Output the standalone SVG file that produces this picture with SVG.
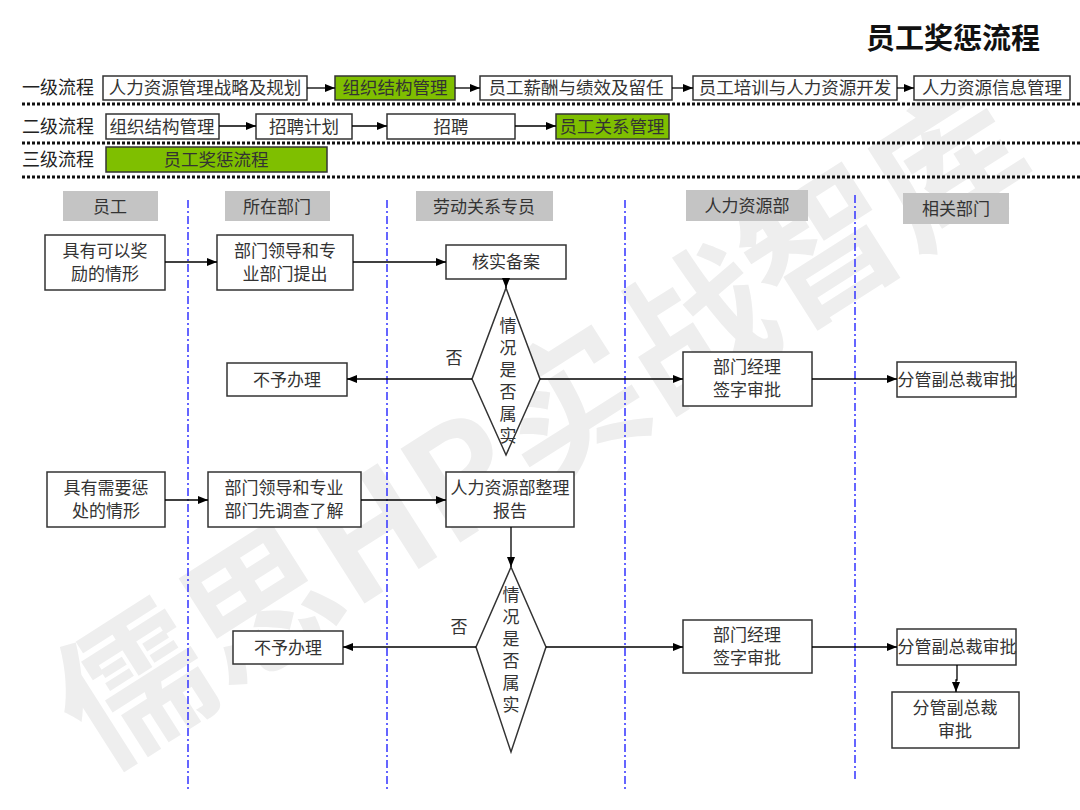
<svg xmlns="http://www.w3.org/2000/svg" width="1080" height="810" viewBox="0 0 1080 810">
<defs>
<marker id="arr" viewBox="0 0 10 10" refX="10" refY="5" markerWidth="10" markerHeight="10" markerUnits="userSpaceOnUse" orient="auto">
<path d="M0,1 L10,5 L0,9 z" fill="#000"/>
</marker>
<style>
text{font-family:"Noto Sans CJK SC","Liberation Sans",sans-serif;fill:#333;}
.t{font-size:17px;text-anchor:middle;}
.v{font-size:17px;text-anchor:middle;writing-mode:vertical-rl;text-orientation:upright;letter-spacing:5px;}
.lbl{font-size:18px;fill:#222;}
.box{fill:#fff;stroke:#333;stroke-width:1.5;}
.hbox{fill:#fff;stroke:#333;stroke-width:1.5;}
.green{fill:#7fbf00;stroke:#333;stroke-width:1.5;}
.gray{fill:#c4c4c4;}
.dot{stroke:#111;stroke-width:3;stroke-dasharray:3 2;fill:none;}
.lane{stroke:#3333ff;stroke-width:1.5;stroke-dasharray:8 3 2 3;fill:none;}
.c{stroke:#000;stroke-width:1.3;fill:none;marker-end:url(#arr);}
.wm{font-size:150px;font-weight:700;fill:#eeeeee;}
</style>
</defs>
<rect width="1080" height="810" fill="#fff"/>
<text class="wm" transform="translate(100,772) rotate(-32.5)">儒思HR实战智库</text>

<text x="1040" y="49" style="font-size:29px;font-weight:700;fill:#111;text-anchor:end">员工奖惩流程</text>

<g id="levels">
<text class="lbl" x="22" y="94">一级流程</text>
<text class="lbl" x="22" y="133">二级流程</text>
<text class="lbl" x="22" y="166">三级流程</text>
<line class="dot" x1="22" y1="104" x2="1080" y2="104"/>
<line class="dot" x1="22" y1="143" x2="1080" y2="143"/>
<line class="dot" x1="22" y1="177" x2="1080" y2="177"/>
</g>

<g id="l1-1"><rect class="hbox" x="103" y="76" width="204" height="24"/><text class="t" x="205" y="94" style="font-size:17.5px">人力资源管理战略及规划</text></g>
<g id="l1-2"><rect class="green" x="335" y="76" width="120" height="24"/><text class="t" x="395" y="94" style="font-size:17.5px">组织结构管理</text></g>
<g id="l1-3"><rect class="hbox" x="480" y="76" width="192" height="24"/><text class="t" x="576" y="94" style="font-size:17.5px">员工薪酬与绩效及留任</text></g>
<g id="l1-4"><rect class="hbox" x="693" y="76" width="204" height="24"/><text class="t" x="795" y="94" style="font-size:17.5px">员工培训与人力资源开发</text></g>
<g id="l1-5"><rect class="hbox" x="914" y="76" width="156" height="24"/><text class="t" x="992" y="94" style="font-size:17.5px">人力资源信息管理</text></g>

<g id="l2-1"><rect class="hbox" x="106" y="114" width="113" height="25"/><text class="t" x="162" y="133" style="font-size:17.5px">组织结构管理</text></g>
<g id="l2-2"><rect class="hbox" x="256" y="114" width="96" height="25"/><text class="t" x="304" y="133" style="font-size:17.5px">招聘计划</text></g>
<g id="l2-3"><rect class="hbox" x="387" y="114" width="128" height="25"/><text class="t" x="451" y="133" style="font-size:17.5px">招聘</text></g>
<g id="l2-4"><rect class="green" x="556" y="114" width="113" height="25"/><text class="t" x="612" y="133" style="font-size:17.5px">员工关系管理</text></g>

<g id="l3-1"><rect class="green" x="106" y="147" width="221" height="25"/><text class="t" x="216" y="166" style="font-size:17.5px">员工奖惩流程</text></g>

<g id="lanes">
<rect class="gray" x="63" y="191" width="95" height="30"/><text class="t" x="110" y="213">员工</text>
<rect class="gray" x="225" y="191" width="105" height="30"/><text class="t" x="277" y="213">所在部门</text>
<rect class="gray" x="416" y="191" width="137" height="30"/><text class="t" x="484" y="213">劳动关系专员</text>
<rect class="gray" x="686" y="190" width="122" height="31"/><text class="t" x="747" y="212">人力资源部</text>
<rect class="gray" x="903" y="193" width="106" height="31"/><text class="t" x="956" y="215">相关部门</text>
<line class="lane" x1="188" y1="200" x2="188" y2="792"/>
<line class="lane" x1="387" y1="200" x2="387" y2="792"/>
<line class="lane" x1="625" y1="200" x2="625" y2="792"/>
<line class="lane" x1="855" y1="195" x2="855" y2="782"/>
</g>

<g id="n1"><rect class="box" x="45" y="235" width="120" height="55"/><text class="t" x="105" y="257">具有可以奖</text><text class="t" x="105" y="280">励的情形</text></g>
<g id="n2"><rect class="box" x="217" y="235" width="136" height="55"/><text class="t" x="285" y="257">部门领导和专</text><text class="t" x="285" y="280">业部门提出</text></g>
<g id="n3"><rect class="box" x="446" y="245" width="120" height="34"/><text class="t" x="506" y="268">核实备案</text></g>
<g id="d1"><path class="box" d="M506,288 L540,379 L506,455 L472,379 Z"/>
<text class="v" x="508" y="383">情况是否属实</text></g>
<g id="n4"><rect class="box" x="227" y="363" width="120" height="33"/><text class="t" x="287" y="386">不予办理</text></g>
<g id="n5"><rect class="box" x="683" y="352" width="129" height="54"/><text class="t" x="747" y="373">部门经理</text><text class="t" x="747" y="396">签字审批</text></g>
<g id="n6"><rect class="box" x="897" y="362" width="119" height="35"/><text class="t" x="957" y="386">分管副总裁审批</text></g>
<text class="t" x="454" y="364">否</text>

<g id="m1"><rect class="box" x="47" y="472" width="118" height="55"/><text class="t" x="106" y="494">具有需要惩</text><text class="t" x="106" y="517">处的情形</text></g>
<g id="m2"><rect class="box" x="208" y="472" width="153" height="55"/><text class="t" x="284" y="494">部门领导和专业</text><text class="t" x="284" y="517">部门先调查了解</text></g>
<g id="m3"><rect class="box" x="446" y="472" width="128" height="55"/><text class="t" x="510" y="494">人力资源部整理</text><text class="t" x="510" y="517">报告</text></g>
<g id="d2"><path class="box" d="M511,567 L546,647 L511,752 L476,647 Z"/>
<text class="v" x="511" y="652">情况是否属实</text></g>
<g id="m4"><rect class="box" x="233" y="631" width="110" height="33"/><text class="t" x="288" y="654">不予办理</text></g>
<g id="m5"><rect class="box" x="683" y="620" width="129" height="53"/><text class="t" x="747" y="641">部门经理</text><text class="t" x="747" y="664">签字审批</text></g>
<g id="m6"><rect class="box" x="897" y="629" width="119" height="36"/><text class="t" x="957" y="653">分管副总裁审批</text></g>
<g id="m7"><rect class="box" x="892" y="692" width="127" height="56"/><text class="t" x="955" y="714">分管副总裁</text><text class="t" x="955" y="737">审批</text></g>
<text class="t" x="459" y="633">否</text>

<g id="connectors">
<line class="c" x1="307" y1="88" x2="335" y2="88"/>
<line class="c" x1="455" y1="88" x2="480" y2="88"/>
<line class="c" x1="672" y1="88" x2="693" y2="88"/>
<line class="c" x1="897" y1="88" x2="914" y2="88"/>
<line class="c" x1="219" y1="126" x2="256" y2="126"/>
<line class="c" x1="352" y1="126" x2="387" y2="126"/>
<line class="c" x1="515" y1="126" x2="556" y2="126"/>

<line class="c" x1="165" y1="262" x2="217" y2="262"/>
<line class="c" x1="353" y1="262" x2="446" y2="262"/>
<line class="c" x1="506" y1="279" x2="506" y2="288"/>
<line class="c" x1="472" y1="379" x2="347" y2="379"/>
<line class="c" x1="540" y1="379" x2="683" y2="379"/>
<line class="c" x1="812" y1="379" x2="897" y2="379"/>

<line class="c" x1="165" y1="500" x2="208" y2="500"/>
<line class="c" x1="361" y1="500" x2="446" y2="500"/>
<line class="c" x1="511" y1="527" x2="511" y2="567"/>
<line class="c" x1="476" y1="647" x2="343" y2="647"/>
<line class="c" x1="546" y1="647" x2="683" y2="647"/>
<line class="c" x1="812" y1="647" x2="897" y2="647"/>
<polyline class="c" points="957,665 957,680 956,680 956,692"/>
</g>
</svg>
